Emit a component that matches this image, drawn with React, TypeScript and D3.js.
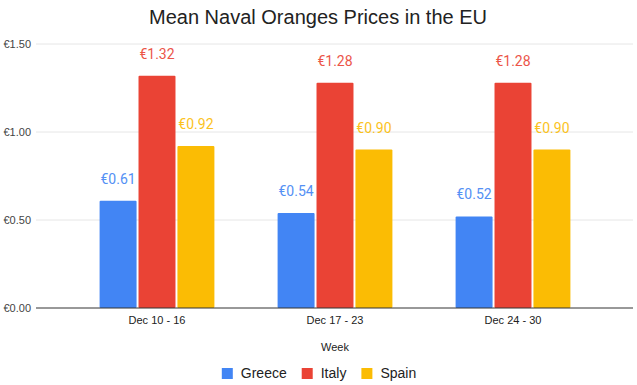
import * as d3 from "d3";

const weeks = ["Dec 10 - 16", "Dec 17 - 23", "Dec 24 - 30"];
const countries = ["Greece", "Italy", "Spain"];
const greece = [0.61, 0.54, 0.52];
const italy = [1.32, 1.28, 1.28];
const spain = [0.92, 0.9, 0.9];
const yTicks = [0, 0.5, 1, 1.5];
const colors = ["#4285f4", "#ea4335", "#fbbc04"];

const width = 637;
const height = 385;
const plotLeft = 68;
const plotRight = 602;
const gridLeft = 36;
const gridRight = 633;
const baseY = 308;
const topY = 44;

const labelFont = "Roboto, Arial, sans-serif";
const axisFont = "Arial, 'Liberation Sans', sans-serif";

const seriesValues = [greece, italy, spain];

const measure = (text: string, font: string) => {
  const ctx = document.createElement("canvas").getContext("2d");
  if (!ctx) return text.length * 7;
  ctx.font = font;
  return ctx.measureText(text).width;
};

const App = () => {
  const x = d3.scaleBand().domain(weeks).range([plotLeft, plotRight]).paddingInner(0.355).paddingOuter(0.1775);
  const inner = d3.scaleBand().domain(countries).range([0, x.bandwidth()]).paddingInner(0.05);
  const y = d3.scaleLinear().domain([0, 1.5]).range([baseY, topY]);
  const fmt = (v: number) => "€" + d3.format(".2f")(v);

  // legend layout, centred under the whole chart
  const legendWidths = countries.map((c) => measure(c, `14px ${axisFont}`));
  const itemWidths = legendWidths.map((w) => 11 + 8 + w);
  const legendTotal = d3.sum(itemWidths) + 15 * (countries.length - 1);
  let cursor = 319 - legendTotal / 2;
  const legendX = itemWidths.map((w) => {
    const at = cursor;
    cursor += w + 15;
    return at;
  });

  return (
    <svg width={width} height={height} style={{ display: "block", position: "absolute", left: 0, top: 0 }}>
      <rect width={width} height={height} fill="#fff" />
      <text x={318} y={24} textAnchor="middle" fontFamily={axisFont} fontSize={20} fill="#222">
        Mean Naval Oranges Prices in the EU
      </text>
      {/* gridlines and y ticks */}
      {yTicks.map((t) => (
        <g key={t}>
          {t > 0 && <line x1={gridLeft} x2={gridRight} y1={y(t)} y2={y(t)} stroke="#e6e6e6" strokeWidth={1} />}
          <text x={31} y={y(t)} dy="0.35em" textAnchor="end" fontFamily={axisFont} fontSize={11} fill="#444">
            {fmt(t)}
          </text>
        </g>
      ))}
      {/* bars */}
      {weeks.map((w, i) => (
        <g key={w} transform={`translate(${x(w)},0)`}>
          {countries.map((c, s) => {
            const v = seriesValues[s][i];
            const bx = inner(c) ?? 0;
            return (
              <g key={c}>
                <rect x={bx} y={y(v)} width={inner.bandwidth()} height={baseY - y(v)} fill={colors[s]} rx={1} />
                <text
                  x={bx + inner.bandwidth() / 2}
                  y={y(v) - 17}
                  textAnchor="middle"
                  fontFamily={labelFont}
                  fontSize={14}
                  fill={colors[s]}
                  opacity={0.9}
                >
                  {fmt(v)}
                </text>
              </g>
            );
          })}
          <text x={x.bandwidth() / 2} y={324} textAnchor="middle" fontFamily={axisFont} fontSize={11} fill="#222">
            {w}
          </text>
        </g>
      ))}
      <line x1={gridLeft} x2={gridRight} y1={baseY} y2={baseY} stroke="#333" strokeWidth={1} />
      <text x={(plotLeft + plotRight) / 2} y={351} textAnchor="middle" fontFamily={axisFont} fontSize={11} fill="#222">
        Week
      </text>
      {/* legend */}
      {countries.map((c, s) => (
        <g key={c} transform={`translate(${legendX[s]},368)`}>
          <rect width={11} height={11} fill={colors[s]} />
          <text x={19} y={10} fontFamily={axisFont} fontSize={14} fill="#222">
            {c}
          </text>
        </g>
      ))}
    </svg>
  );
};

export default App;
